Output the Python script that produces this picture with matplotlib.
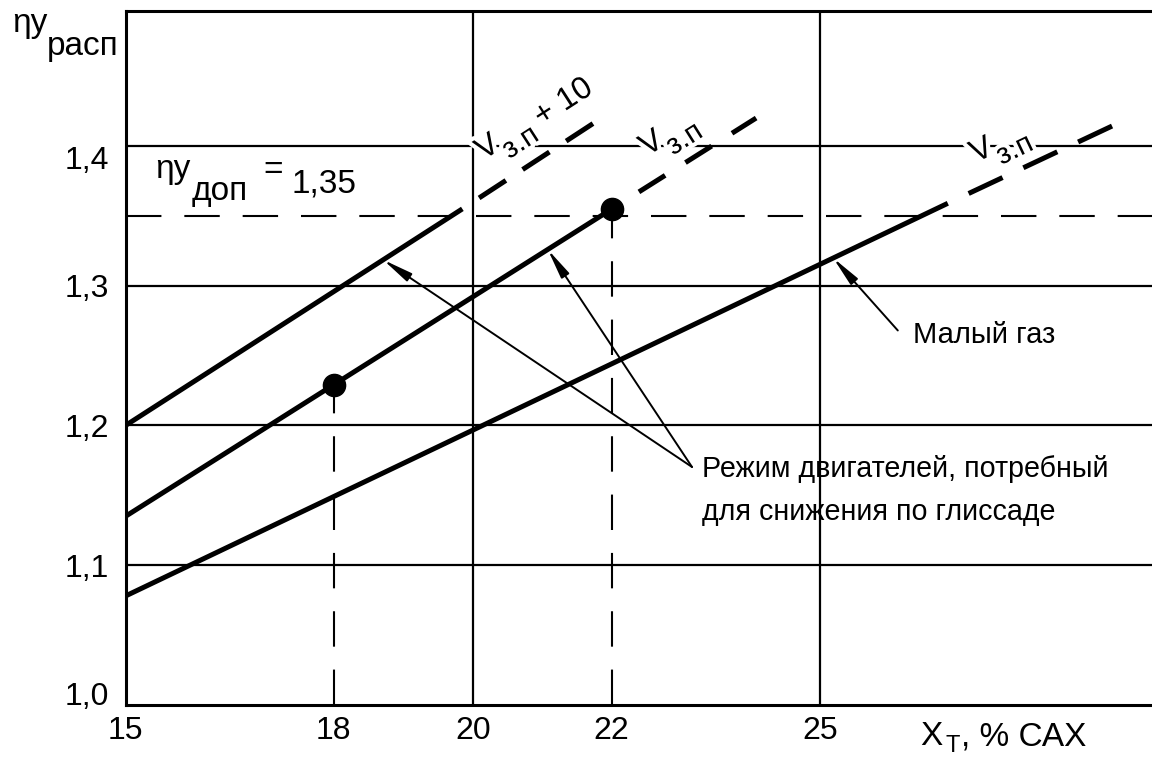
import numpy as np
import matplotlib
matplotlib.use('Agg')
import matplotlib.pyplot as plt
import matplotlib.patheffects as pe

plt.rcParams['font.family'] = ['Liberation Sans', 'DejaVu Sans']

# ---------------- data ----------------
x_ticks = [15, 18, 20, 22, 25]
x_tick_labels = ['15', '18', '20', '22', '25']
y_ticks = [1.0, 1.1, 1.2, 1.3, 1.4]
y_tick_labels = ['1,0', '1,1', '1,2', '1,3', '1,4']
grid_x = [20, 25]
grid_y = [1.1, 1.2, 1.3, 1.4]
eta_dop = 1.35

# each curve: start, end of solid part, end of dashed part
v_plus10_x = [15.0, 19.85, 21.76]
v_plus10_y = [1.200, 1.355, 1.417]
v_zp_x = [15.0, 22.1, 24.08]
v_zp_y = [1.135, 1.358, 1.420]
idle_x = [15.0, 26.84, 29.45]
idle_y = [1.078, 1.359, 1.420]

points_x = [18, 22]

W, H = 1152, 757
fig = plt.figure(figsize=(W / 100, H / 100), dpi=100)
ax = fig.add_axes([125.5 / W, 52 / H, 1 - 125.5 / W, 694 / H])
ax.set_xlim(15, 29.78)
ax.set_ylim(1.0, 1.4966)


def fx(px):
    return px / W


def fy(py):
    return 1 - py / H


# spines
for s in ['left', 'bottom', 'top']:
    ax.spines[s].set_linewidth(2.2)
ax.spines['right'].set_visible(False)

ax.set_xticks(x_ticks)
ax.set_xticklabels(x_tick_labels)
ax.set_yticks(y_ticks)
ax.set_yticklabels(y_tick_labels)
ax.tick_params(length=0, labelsize=23)
ax.tick_params(axis='x', pad=8)
ax.tick_params(axis='y', pad=12)
for lbl in ax.get_yticklabels():
    if lbl.get_text() == '1,0':
        lbl.set_va('baseline')
    elif lbl.get_text() == '1,4':
        lbl.set_va('top')

# grid
for gx in grid_x:
    ax.axvline(gx, color='black', lw=1.6, zorder=1)
for gy in grid_y:
    ax.axhline(gy, color='black', lw=1.6, zorder=1)

thin_dash = (0, (17, 11))
ax.axhline(eta_dop, color='black', lw=1.5, ls=thin_dash, zorder=1)

pts_y = np.interp(points_x, v_zp_x, v_zp_y)
for px_, py_ in zip(points_x, pts_y):
    ax.plot([px_, px_], [1.0, py_], color='black', lw=1.5, ls=thin_dash, zorder=1)

# curves
thick = 3.6
for xs, ys, dash in [(v_plus10_x, v_plus10_y, (6.4, 4.0)),
                     (v_zp_x, v_zp_y, (6.2, 4.8)),
                     (idle_x, idle_y, (7.5, 4.6))]:
    ax.plot(xs[:2], ys[:2], color='black', lw=thick, solid_capstyle='butt', zorder=3)
    ax.plot(xs[1:], ys[1:], color='black', lw=thick, ls=(dash[0], dash),
            dash_capstyle='butt', zorder=3)

ax.plot(points_x, pts_y, 'o', color='black', ms=16, zorder=4)


def screen_angle(xs, ys):
    p = ax.transData.transform(np.array([[xs[0], ys[0]], [xs[-1], ys[-1]]]))
    return np.degrees(np.arctan2(p[1, 1] - p[0, 1], p[1, 0] - p[0, 0]))


stroke = [pe.withStroke(linewidth=6, foreground='white')]


def line_label(anchor, angle, pieces):
    """pieces: (text, size, along_px, down_px)"""
    th = np.radians(angle)
    u = np.array([np.cos(th), np.sin(th)])
    n = np.array([np.sin(th), -np.cos(th)])
    for txt, size, a, b in pieces:
        off = a * u + b * n
        ax.annotate(txt, xy=anchor, xytext=(off[0], off[1]), textcoords='offset pixels',
                    fontsize=size, rotation=angle, rotation_mode='anchor',
                    ha='center', va='center', zorder=2, path_effects=stroke)


sub = [('V', 23, 0, 0), ('з.п', 21, 30, 13)]
line_label((20.22, 1.3986), screen_angle(v_plus10_x, v_plus10_y),
           sub + [('+ 10', 23, 88, 3)])
line_label((22.58, 1.4014), screen_angle(v_zp_x, v_zp_y), sub)
line_label((27.33, 1.3964), screen_angle(idle_x, idle_y), sub)

# annotations
arrow_kw = dict(arrowstyle='-|>,head_length=0.9,head_width=0.14', lw=1.4,
                color='black', mutation_scale=20, shrinkA=0, shrinkB=0)
tail = (23.157, 1.1703)
for xs, ys, tx in [(v_plus10_x, v_plus10_y, 18.71), (v_zp_x, v_zp_y, 21.08)]:
    ax.annotate('', xy=(tx, np.interp(tx, xs, ys)), xytext=tail,
                arrowprops=arrow_kw, zorder=3)
ax.text(23.30, 1.1631, 'Режим двигателей, потребный', fontsize=20.6,
        ha='left', va='baseline')
ax.text(23.30, 1.1324, 'для снижения по глиссаде', fontsize=20.6,
        ha='left', va='baseline')

ax.annotate('', xy=(25.19, np.interp(25.19, idle_x, idle_y)), xytext=(26.12, 1.268),
            arrowprops=arrow_kw, zorder=3)
ax.text(26.34, 1.259, 'Малый газ', fontsize=21, ha='left', va='baseline')

# eta_dop label
fig.text(fx(155), fy(178), 'ηy', fontsize=24, ha='left', va='baseline')
fig.text(fx(192), fy(200), 'доп', fontsize=24, ha='left', va='baseline')
fig.text(fx(263), fy(179), '=', fontsize=24, ha='left', va='baseline')
fig.text(fx(292), fy(193), '1,35', fontsize=24, ha='left', va='baseline')

# axis labels
fig.text(fx(12), fy(32), 'ηy', fontsize=24, ha='left', va='baseline')
fig.text(fx(47), fy(55), 'расп', fontsize=24, ha='left', va='baseline')
fig.text(fx(920), fy(745), 'Х', fontsize=24, ha='left', va='baseline')
fig.text(fx(945), fy(752), 'Т', fontsize=17, ha='left', va='baseline')
fig.text(fx(961), fy(745), ', % САХ', fontsize=24, ha='left', va='baseline')

fig.savefig('out.png', dpi=100, facecolor='white')
